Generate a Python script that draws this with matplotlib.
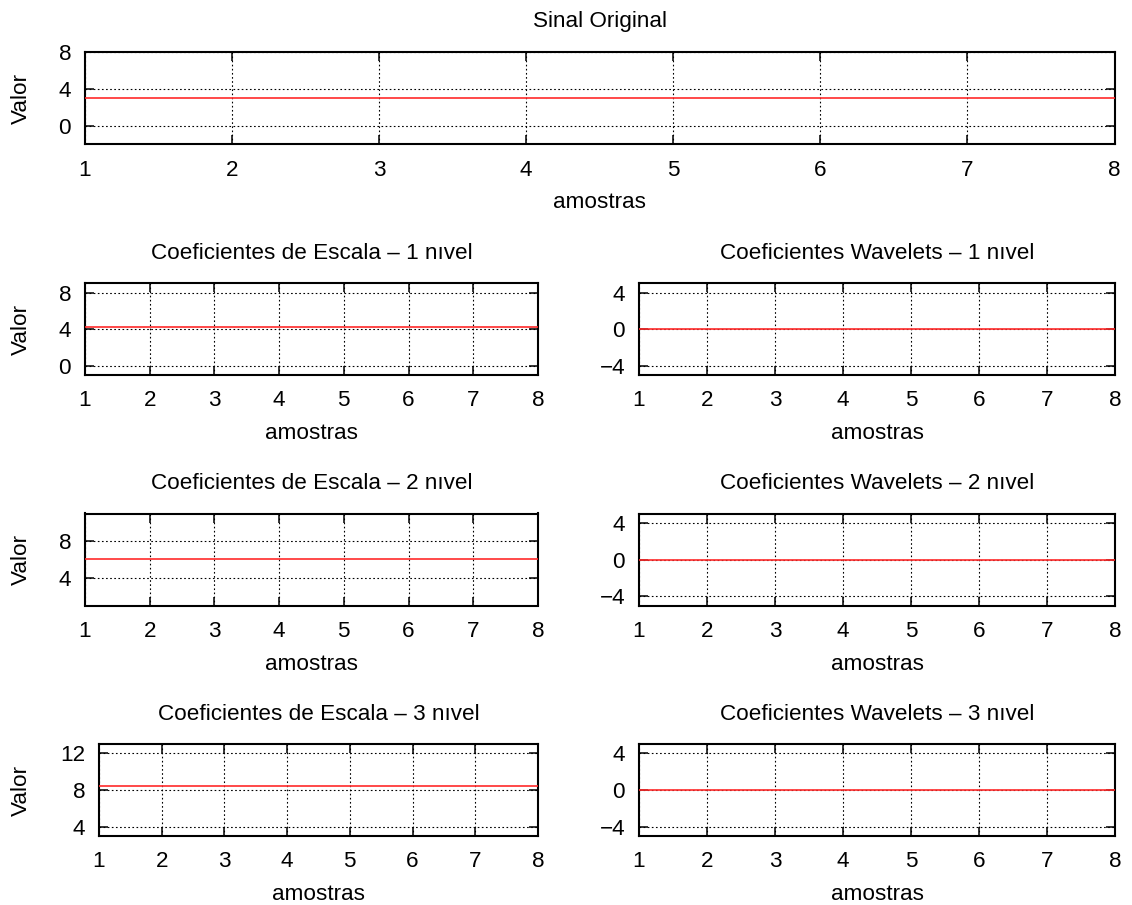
import matplotlib
matplotlib.use("Agg")
import matplotlib.pyplot as plt
import matplotlib.transforms as mtransforms

# ---- data -------------------------------------------------------------
amostras = [1, 2, 3, 4, 5, 6, 7, 8]

sinal_original = [3, 3, 3, 3, 3, 3, 3, 3]

escala_1 = [4.243, 4.243, 4.243, 4.243, 4.243, 4.243, 4.243, 4.243]
escala_2 = [6.0, 6.0, 6.0, 6.0, 6.0, 6.0, 6.0, 6.0]
escala_3 = [8.485, 8.485, 8.485, 8.485, 8.485, 8.485, 8.485, 8.485]

wavelet_1 = [0, 0, 0, 0, 0, 0, 0, 0]
wavelet_2 = [0, 0, 0, 0, 0, 0, 0, 0]
wavelet_3 = [0, 0, 0, 0, 0, 0, 0, 0]

titulos_escala = ["Coeficientes de Escala \u2013 1 n\u0131vel",
                  "Coeficientes de Escala \u2013 2 n\u0131vel",
                  "Coeficientes de Escala \u2013 3 n\u0131vel"]
titulos_wavelet = ["Coeficientes Wavelets \u2013 1 n\u0131vel",
                   "Coeficientes Wavelets \u2013 2 n\u0131vel",
                   "Coeficientes Wavelets \u2013 3 n\u0131vel"]

# ---- style ------------------------------------------------------------
plt.rcParams["font.family"] = ["Liberation Sans", "DejaVu Sans"]
FS = 16.2
plt.rcParams["font.size"] = FS

W, H = 1132, 905
fig = plt.figure(figsize=(W / 100, H / 100), dpi=100)


def rect(left, right, top, bottom):
    return [left / W, 1 - bottom / H, (right - left) / W, (bottom - top) / H]


LINE_COLOR = "#ff2a2a"


def style_axes(ax, title, ylim, yticks, ylabel=True, title_pad=17.5):
    ax.set_xlim(1, 8)
    ax.set_xticks(amostras)
    ax.set_ylim(*ylim)
    ax.set_yticks(yticks)
    for s in ax.spines.values():
        s.set_linewidth(1.5)
    ax.tick_params(direction="in", top=True, right=True, length=6.5,
                   width=1.1, labelsize=FS)
    ax.tick_params(axis="x", pad=11)
    ax.tick_params(axis="y", pad=10)
    ax.grid(True, color="black", linewidth=0.8, linestyle=(0, (1.5, 2.2)))
    ax.set_axisbelow(True)
    ax.set_title(title, pad=title_pad, fontsize=FS)

    ax.set_xlabel("amostras", fontsize=FS)
    off = mtransforms.ScaledTranslation(0, -64 / 100, fig.dpi_scale_trans)
    ax.xaxis.set_label_coords(0.5, 0, transform=ax.transAxes + off)
    ax.xaxis.label.set_verticalalignment("baseline")

    if ylabel:
        ax.set_ylabel("Valor", fontsize=FS)
        tr = mtransforms.blended_transform_factory(fig.transFigure, ax.transAxes)
        ax.yaxis.set_label_coords(21 / W, 0.5, transform=tr)
        ax.yaxis.label.set_verticalalignment("center")


# top: original signal
ax0 = fig.add_axes(rect(85, 1114.5, 52.5, 144.5))
ax0.plot(amostras, sinal_original, color=LINE_COLOR, linewidth=1.2, zorder=3)
style_axes(ax0, "Sinal Original", (-2, 8), [0, 4, 8], title_pad=18.5)

# scale coefficients (left column)
escala = [escala_1, escala_2, escala_3]
esc_ylim = [(-1, 9), (1, 11), (3, 13)]
esc_ticks = [[0, 4, 8], [4, 8], [4, 8, 12]]
rows = [(283.5, 375), (513.5, 605.5), (744, 836)]
lefts = [85, 85, 99]

for i in range(3):
    top, bottom = rows[i]
    ax = fig.add_axes(rect(lefts[i], 538, top, bottom))
    ax.plot(amostras, escala[i], color=LINE_COLOR, linewidth=1.2, zorder=3)
    style_axes(ax, titulos_escala[i], esc_ylim[i], esc_ticks[i])

# wavelet coefficients (right column)
wavelet = [wavelet_1, wavelet_2, wavelet_3]
for i in range(3):
    top, bottom = rows[i]
    ax = fig.add_axes(rect(639, 1115, top, bottom))
    ax.plot(amostras, wavelet[i], color=LINE_COLOR, linewidth=1.2, zorder=3)
    style_axes(ax, titulos_wavelet[i], (-5, 5), [-4, 0, 4], ylabel=False)

fig.savefig("out.png", dpi=100)
